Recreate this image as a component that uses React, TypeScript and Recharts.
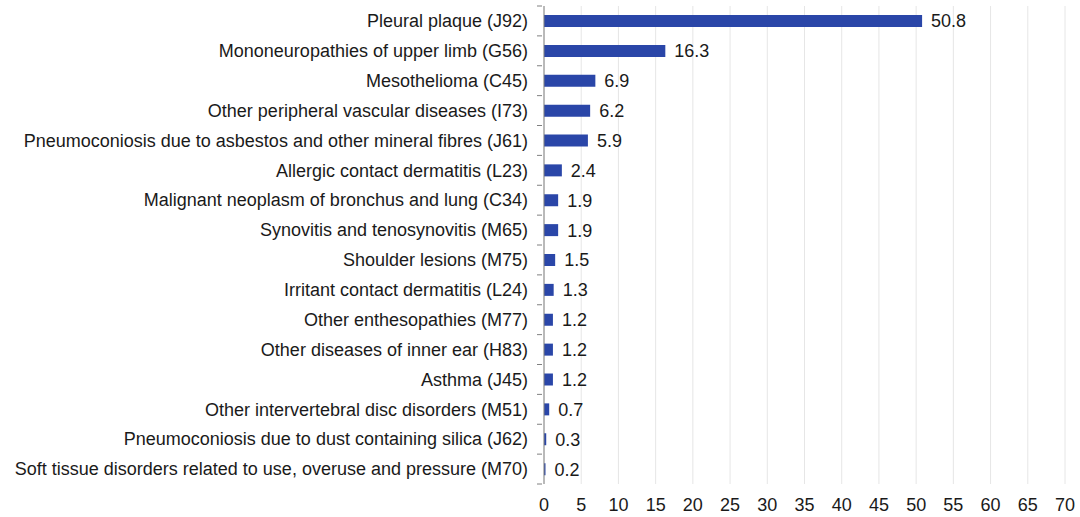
import React from "react";
import { BarChart, Bar, XAxis, YAxis, CartesianGrid, LabelList } from "recharts";

const categories = [
  "Pleural plaque (J92)",
  "Mononeuropathies of upper limb (G56)",
  "Mesothelioma (C45)",
  "Other peripheral vascular diseases (I73)",
  "Pneumoconiosis due to asbestos and other mineral fibres (J61)",
  "Allergic contact dermatitis (L23)",
  "Malignant neoplasm of bronchus and lung (C34)",
  "Synovitis and tenosynovitis (M65)",
  "Shoulder lesions (M75)",
  "Irritant contact dermatitis (L24)",
  "Other enthesopathies (M77)",
  "Other diseases of inner ear (H83)",
  "Asthma (J45)",
  "Other intervertebral disc disorders (M51)",
  "Pneumoconiosis due to dust containing silica (J62)",
  "Soft tissue disorders related to use, overuse and pressure (M70)",
];

const values = [50.8, 16.3, 6.9, 6.2, 5.9, 2.4, 1.9, 1.9, 1.5, 1.3, 1.2, 1.2, 1.2, 0.7, 0.3, 0.2];

const xTicks = [0, 5, 10, 15, 20, 25, 30, 35, 40, 45, 50, 55, 60, 65, 70];

const data = categories.map((name, i) => ({ name, value: values[i] }));

const FONT = '"Liberation Sans", Arial, sans-serif';
const FONT_SIZE = 18;
const PLOT_HEIGHT = 478;
const BAND = PLOT_HEIGHT / categories.length;

// category tick: label plus small tick marks on the band edges
const CategoryTick = (props: any) => {
  const { x, y, payload, index } = props;
  const ax = x + 6;
  const top = y - BAND / 2;
  return (
    <g>
      <line x1={ax - 5} x2={ax} y1={top} y2={top} stroke="#808080" strokeWidth={1} />
      {index === categories.length - 1 && (
        <line x1={ax - 5} x2={ax} y1={top + BAND} y2={top + BAND} stroke="#808080" strokeWidth={1} />
      )}
      <text x={ax - 14} y={y} dy="0.35em" textAnchor="end" fontSize={FONT_SIZE} fill="#1a1a1a" fontFamily={FONT}>
        {payload.value}
      </text>
    </g>
  );
};

export default function App() {
  return (
    <div style={{ position: "absolute", left: 0, top: 0, width: 1080, height: 517, background: "#fff" }}>
      <BarChart
        width={1080}
        height={517}
        data={data}
        layout="vertical"
        margin={{ top: 6, right: 15, bottom: 0, left: 0 }}
        barCategoryGap={0}
      >
        <CartesianGrid horizontal={false} stroke="#e6e6e6" />
        <XAxis
          type="number"
          domain={[0, 70]}
          ticks={xTicks}
          axisLine={false}
          tickLine={false}
          height={33}
          tickMargin={8}
          tick={{ fontSize: FONT_SIZE, fill: "#1a1a1a", fontFamily: FONT }}
        />
        <YAxis
          type="category"
          dataKey="name"
          width={544}
          interval={0}
          axisLine={{ stroke: "#808080" }}
          tickLine={false}
          tick={<CategoryTick />}
        />
        <Bar dataKey="value" fill="#2a46a8" barSize={12} isAnimationActive={false}>
          <LabelList
            dataKey="value"
            position="right"
            offset={9}
            fontSize={FONT_SIZE}
            fill="#1a1a1a"
            fontFamily={FONT}
            formatter={(v: any) => Number(v).toFixed(1)}
          />
        </Bar>
      </BarChart>
    </div>
  );
}
